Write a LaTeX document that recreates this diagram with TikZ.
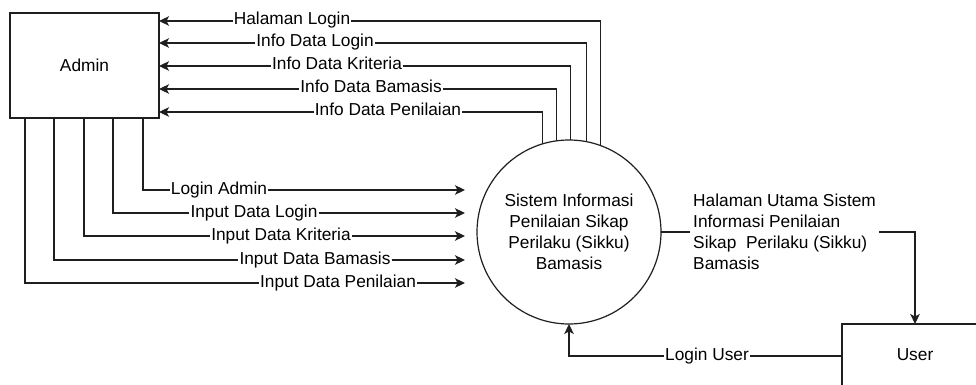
\documentclass[tikz,border=0pt]{standalone}
\usepackage{fontspec}
\setmainfont{Liberation Sans}
\usetikzlibrary{arrows.meta}
\definecolor{ln}{gray}{0.12}
\definecolor{tx}{gray}{0.0}
\begin{document}
\begin{tikzpicture}[x=1pt,y=-1pt,
  every node/.style={font=\fontsize{17.3}{21}\selectfont, text=tx},
  conn/.style={draw=ln, line width=1.2pt},
  arr/.style={conn, -{Stealth[length=10pt,width=9.5pt,inset=2.5pt]}},
  entity/.style={draw=ln, line width=1.2pt, rectangle, inner sep=0pt, outer sep=0pt},
  proc/.style={draw=ln, line width=1.2pt, circle, minimum size=184pt, inner sep=0pt, outer sep=0pt, align=center},
  lbl/.style={inner sep=1pt, text height=10pt, text depth=2pt}
]
\useasboundingbox (0,0) rectangle (976,385);

% entities and process
\node[entity, minimum width=149pt, minimum height=105pt] (admin) at (84.5,65.5) {Admin};
\node[entity, minimum width=146pt, minimum height=62pt] (user) at (915,355) {User};
\node[proc] (sys) at (569,232) {Sistem Informasi\\Penilaian Sikap\\Perilaku (Sikku)\\Bamasis};

% info flows (system -> admin)
\node[lbl] (lH) at (292,21) {Halaman Login};
\node[lbl] (lL) at (315,43) {Info Data Login};
\node[lbl] (lK) at (337,66) {Info Data Kriteria};
\node[lbl] (lB) at (371,89) {Info Data Bamasis};
\node[lbl] (lP) at (388,112) {Info Data Penilaian};
\draw[conn] (sys.70.31) |- (lH.east);
\draw[arr] (lH.west) -- (admin.east |- lH.west);
\draw[conn] (sys.79.98) |- (lL.east);
\draw[arr] (lL.west) -- (admin.east |- lL.west);
\draw[conn] (sys.89.38) |- (lK.east);
\draw[arr] (lK.west) -- (admin.east |- lK.west);
\draw[conn] (sys.98.12) |- (lB.east);
\draw[arr] (lB.west) -- (admin.east |- lB.west);
\draw[conn] (sys.107.72) |- (lP.east);
\draw[arr] (lP.west) -- (admin.east |- lP.west);

% input flows (admin -> system)
\node[lbl] (iA) at (219,190) {Login Admin};
\node[lbl] (iL) at (254,213) {Input Data Login};
\node[lbl] (iK) at (281,236) {Input Data Kriteria};
\node[lbl] (iB) at (315,260) {Input Data Bamasis};
\node[lbl] (iP) at (338,283) {Input Data Penilaian};
\coordinate (eA) at (465,190);
\coordinate (eL) at (465,213);
\coordinate (eK) at (465,236);
\coordinate (eB) at (465,260);
\coordinate (eP) at (465,283);
\draw[conn] ([xshift=133pt]admin.south west) |- (iA.west);
\draw[arr] (iA.east) -- (eA);
\draw[conn] ([xshift=103pt]admin.south west) |- (iL.west);
\draw[arr] (iL.east) -- (eL);
\draw[conn] ([xshift=74pt]admin.south west) |- (iK.west);
\draw[arr] (iK.east) -- (eK);
\draw[conn] ([xshift=44pt]admin.south west) |- (iB.west);
\draw[arr] (iB.east) -- (eB);
\draw[conn] ([xshift=15pt]admin.south west) |- (iP.west);
\draw[arr] (iP.east) -- (eP);

% system -> user
\node[align=left, inner sep=3pt, anchor=west] (lO) at (690,232) {Halaman Utama Sistem\\Informasi Penilaian\\Sikap\ \ Perilaku (Sikku)\\Bamasis};
\draw[conn] (sys.east) -- (lO.west);
\draw[arr] (lO.east) -| (user.north);

% user -> system
\node[lbl] (lU) at (707,356) {Login User};
\draw[conn] (user.west |- lU.east) -- (lU.east);
\draw[arr] (lU.west) -| (sys.south);
\end{tikzpicture}
\end{document}
